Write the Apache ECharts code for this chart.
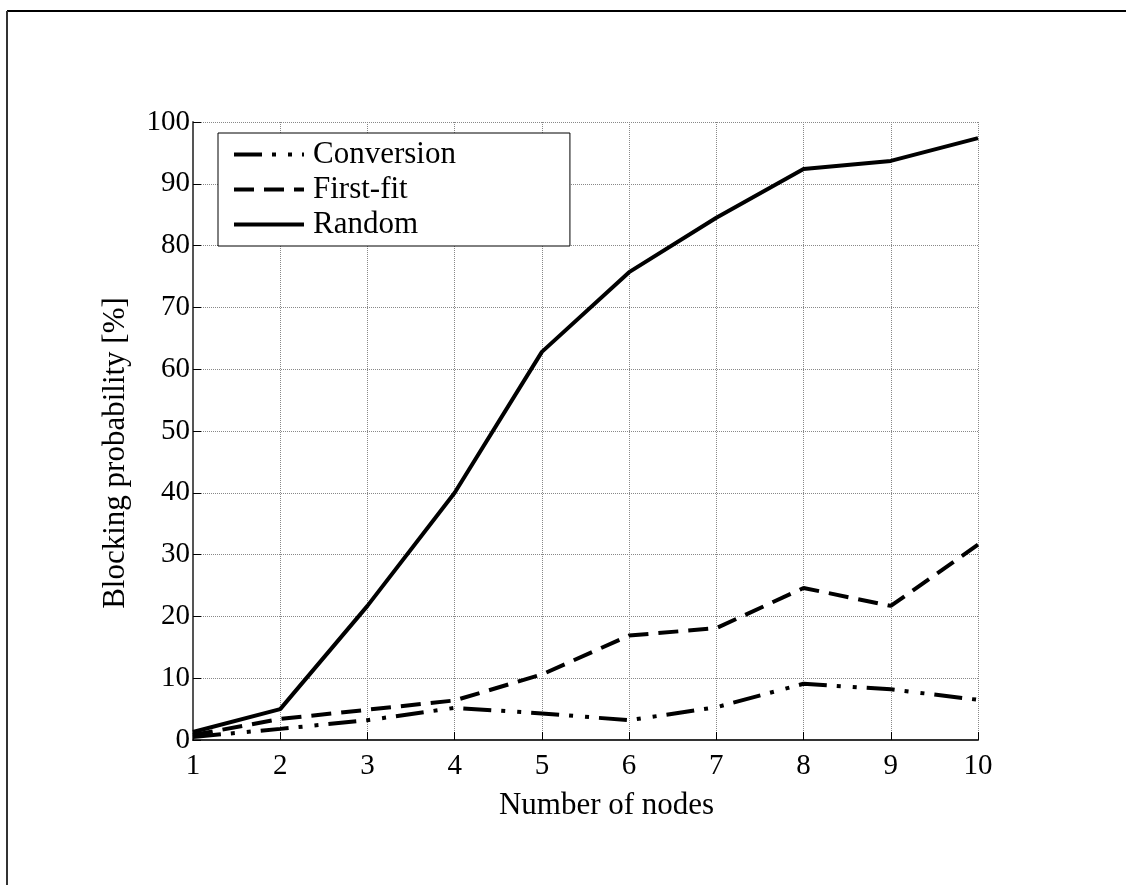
<!DOCTYPE html>
<html>
<head>
<meta charset="utf-8">
<script src="https://cdn.jsdelivr.net/npm/echarts@6/dist/echarts.min.js"></script>
<style>
  html, body { margin: 0; padding: 0; background: #fff; }
  #chart { width: 1126px; height: 885px; }
</style>
</head>
<body>
<div id="chart"></div>
<script>
//== data
var nodes = [1, 2, 3, 4, 5, 6, 7, 8, 9, 10];
var conversion = [0.5, 1.8, 3.2, 5.2, 4.3, 3.2, 5.3, 9.1, 8.2, 6.5];
var firstFit = [0.8, 3.4, 4.9, 6.4, 10.6, 16.9, 18.1, 24.6, 21.7, 31.6];
var random = [1.3, 5.0, 21.7, 40.0, 62.8, 75.7, 84.5, 92.4, 93.7, 97.4];

var serif = 'Liberation Serif, Times New Roman, serif';

function pairs(ys) {
    var out = [];
    for (var i = 0; i < nodes.length; i++) {
        out.push([nodes[i], ys[i]]);
    }
    return out;
}

var myChart = echarts.init(document.getElementById('chart'));

var option = {
    backgroundColor: '#fff',
    animation: false,
    textStyle: { fontFamily: serif, color: '#000' },
    grid: { left: 193, right: 148, top: 122, bottom: 145 },
    legend: {
        orient: 'vertical',
        left: 218,
        top: 133,
        backgroundColor: '#fff',
        borderColor: '#000',
        borderWidth: 1,
        padding: [6, 114, 6, 14],
        itemWidth: 70,
        itemHeight: 30,
        itemGap: 4,
        itemStyle: { opacity: 0 },
        lineStyle: { width: 4 },
        textStyle: { fontFamily: serif, fontSize: 31, color: '#000', padding: [0, 0, 0, 4] },
        data: ['Conversion', 'First-fit', 'Random']
    },
    xAxis: {
        type: 'value',
        min: 1,
        max: 10,
        interval: 1,
        name: 'Number of nodes',
        nameLocation: 'middle',
        nameGap: 50,
        nameTextStyle: { fontFamily: serif, fontSize: 31, color: '#000', padding: [0, 0, 0, 42] },
        axisLine: { show: true, lineStyle: { color: '#333', width: 2 } },
        axisTick: { show: true, inside: true, length: 8, lineStyle: { color: '#000', width: 1 } },
        axisLabel: { fontFamily: serif, fontSize: 29, color: '#000', margin: 12 },
        splitLine: { show: true, lineStyle: { color: '#888', width: 1, type: 'dotted' } }
    },
    yAxis: {
        type: 'value',
        min: 0,
        max: 100,
        interval: 10,
        name: 'Blocking probability [%]',
        nameLocation: 'middle',
        nameGap: 62,
        nameTextStyle: { fontFamily: serif, fontSize: 31, color: '#000', padding: [0, 44, 0, 0] },
        axisLine: { show: true, lineStyle: { color: '#555', width: 2 } },
        axisTick: { show: true, inside: true, length: 8, lineStyle: { color: '#000', width: 1 } },
        axisLabel: { fontFamily: serif, fontSize: 29, color: '#000', margin: 3 },
        splitLine: { show: true, lineStyle: { color: '#888', width: 1, type: 'dotted' } }
    },
    series: [
        {
            name: 'Conversion',
            type: 'line',
            data: pairs(conversion),
            symbol: 'none',
            lineStyle: { color: '#000', width: 4, type: [28, 10, 4, 12, 4, 10] },
            itemStyle: { color: '#000' }
        },
        {
            name: 'First-fit',
            type: 'line',
            data: pairs(firstFit),
            symbol: 'none',
            lineStyle: { color: '#000', width: 4, type: [20, 10] },
            itemStyle: { color: '#000' }
        },
        {
            name: 'Random',
            type: 'line',
            data: pairs(random),
            symbol: 'none',
            lineStyle: { color: '#000', width: 4, type: 'solid' },
            itemStyle: { color: '#000' }
        }
    ],
    graphic: [
        // outer figure frame (top and left edges visible)
        { type: 'line', shape: { x1: 7, y1: 11, x2: 1126, y2: 11 }, style: { stroke: '#000', lineWidth: 2 } },
        { type: 'line', shape: { x1: 7, y1: 11, x2: 7, y2: 885 }, style: { stroke: '#333', lineWidth: 2 } }
    ]
};

myChart.setOption(option);
</script>
</body>
</html>
